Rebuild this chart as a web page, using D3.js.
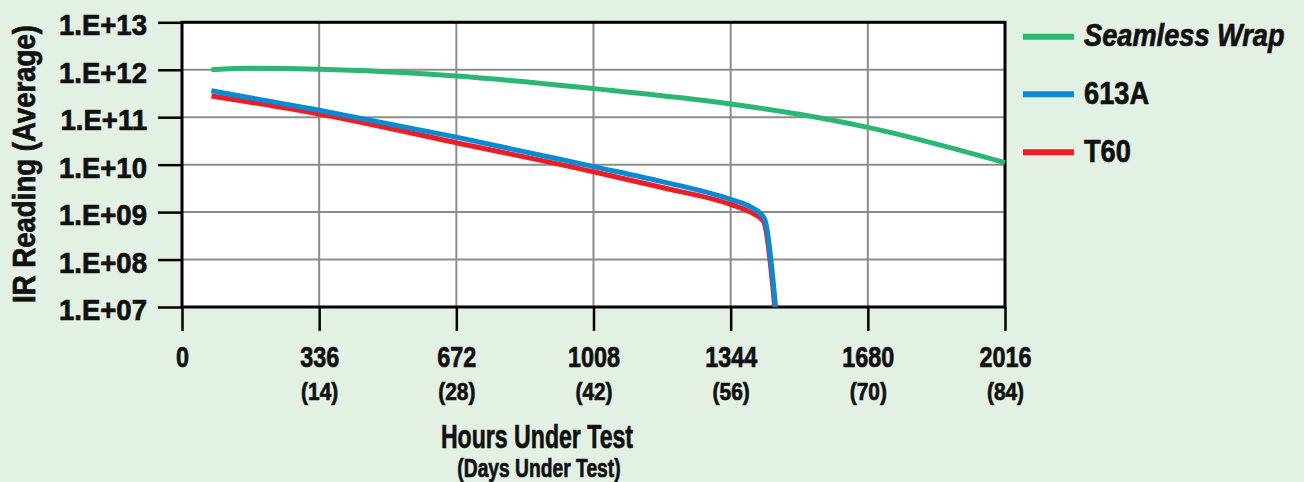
<!DOCTYPE html>
<html>
<head>
<meta charset="utf-8">
<script src="https://cdn.jsdelivr.net/npm/d3@7"></script>
<style>
  html, body { margin: 0; padding: 0; background: #e3f1e4; }
  svg { display: block; font-family: "Liberation Sans", Arial, sans-serif; font-weight: bold; }
  svg text { stroke: #111; stroke-width: 0.7px; }
  .grid line { stroke: #8c8c8c; stroke-width: 2; }
</style>
</head>
<body>
<svg width="1304" height="482"></svg>
<script>
const hourTicks = [0, 336, 672, 1008, 1344, 1680, 2016];
const dayLabels = ['', '(14)', '(28)', '(42)', '(56)', '(70)', '(84)'];
const irTicks = [1e7, 1e8, 1e9, 1e10, 1e11, 1e12, 1e13];
const irLabels = ['1.E+07', '1.E+08', '1.E+09', '1.E+10', '1.E+11', '1.E+12', '1.E+13'];

const seriesNames = ['Seamless Wrap', '613A', 'T60'];
const seriesColors = ['#2bb673', '#0a8ad2', '#ee1d25'];

const seamlessHours = [72, 168, 336, 672, 1008, 1344, 1512, 1680, 2016];
const seamlessIR = [1.0e12, 1.07e12, 1.03e12, 7.4e11, 4.0e11, 1.9e11, 1.15e11, 6.1e10, 1.1e10];

const hours613A = [72, 336, 672, 1008, 1176, 1344, 1392, 1416, 1428, 1454];
const ir613A = [3.6e11, 1.4e11, 3.8e10, 9.1e9, 4.4e9, 1.85e9, 1.3e9, 9.5e8, 6.9e8, 1e7];

const hoursT60 = [72, 336, 672, 1008, 1176, 1344, 1392, 1416, 1426, 1452];
const irT60 = [2.8e11, 1.17e11, 2.9e10, 7.1e9, 3.3e9, 1.45e9, 1.0e9, 7.6e8, 6.0e8, 1e7];

const svg = d3.select('svg');

// the original lettering is a condensed face, so squeeze the glyphs
function squeeze(sel, k) {
    sel.each(function () {
        const w = this.getComputedTextLength();
        d3.select(this).attr('textLength', w * k).attr('lengthAdjust', 'spacingAndGlyphs');
    });
}

const x = d3.scaleLinear().domain([0, 2016]).range([182, 1005]);
const y = d3.scaleLog().domain([1e7, 1e13]).range([307, 22.3]);

// plot area
svg.append('rect')
    .attr('x', x(0)).attr('y', y(1e13))
    .attr('width', x(2016) - x(0)).attr('height', y(1e7) - y(1e13))
    .attr('fill', '#fff');

const grid = svg.append('g').attr('class', 'grid');
grid.selectAll('.v').data(hourTicks.slice(1, -1))
    .enter().append('line')
    .attr('x1', d => x(d)).attr('x2', d => x(d))
    .attr('y1', y(1e13)).attr('y2', y(1e7));
grid.selectAll('.h').data(irTicks.slice(1, -1))
    .enter().append('line')
    .attr('x1', x(0)).attr('x2', x(2016))
    .attr('y1', d => y(d)).attr('y2', d => y(d));

// axes
const yAxis = svg.append('g')
    .attr('transform', `translate(${x(0)},0)`)
    .call(d3.axisLeft(y).tickValues(irTicks).tickSize(24).tickPadding(11)
        .tickFormat((d, i) => irLabels[i]));
yAxis.select('.domain').remove();
yAxis.selectAll('.tick line').attr('stroke', '#000').attr('stroke-width', 2.5);
yAxis.selectAll('.tick text')
    .attr('fill', '#111').attr('font-size', 29).attr('font-family', null)
    .attr('dy', '0.43em')
    .call(squeeze, 0.95);

const xAxis = svg.append('g')
    .attr('transform', `translate(0,${y(1e7)})`)
    .call(d3.axisBottom(x).tickValues(hourTicks).tickSize(24)
        .tickFormat(d3.format('d')));
xAxis.select('.domain').remove();
xAxis.selectAll('.tick line').attr('stroke', '#000').attr('stroke-width', 2.5);
xAxis.selectAll('.tick text')
    .attr('fill', '#111').attr('font-size', 30).attr('font-family', null)
    .attr('y', 60).attr('dy', 0)
    .call(squeeze, 0.78);
xAxis.selectAll('.tick').append('text')
    .attr('fill', '#111').attr('font-size', 24)
    .attr('y', 93).attr('text-anchor', 'middle')
    .text((d, i) => dayLabels[i])
    .call(squeeze, 0.87);

// frame
svg.append('rect')
    .attr('x', x(0)).attr('y', y(1e13))
    .attr('width', x(2016) - x(0)).attr('height', y(1e7) - y(1e13))
    .attr('fill', 'none').attr('stroke', '#000').attr('stroke-width', 3);

// series
const line = d3.line()
    .x(d => x(d[0]))
    .y(d => y(d[1]))
    .curve(d3.curveMonotoneX);

const series = [
    d3.zip(seamlessHours, seamlessIR),
    d3.zip(hours613A, ir613A),
    d3.zip(hoursT60, irT60)
];
[0, 2, 1].forEach(i => {
    svg.append('path')
        .datum(series[i])
        .attr('fill', 'none')
        .attr('stroke', seriesColors[i])
        .attr('stroke-width', 5)
        .attr('stroke-linejoin', 'round')
        .attr('d', line);
});

// titles
svg.append('text')
    .attr('x', 537).attr('y', 448)
    .attr('text-anchor', 'middle').attr('font-size', 33).attr('fill', '#111')
    .text('Hours Under Test')
    .call(squeeze, 0.70);
svg.append('text')
    .attr('x', 539).attr('y', 477)
    .attr('text-anchor', 'middle').attr('font-size', 25).attr('fill', '#111')
    .text('(Days Under Test)')
    .call(squeeze, 0.77);
svg.append('text')
    .attr('transform', 'translate(35,164) rotate(-90)')
    .attr('text-anchor', 'middle').attr('font-size', 31).attr('fill', '#111')
    .text('IR Reading (Average)')
    .call(squeeze, 0.89);

// legend
const legend = svg.append('g').attr('transform', 'translate(1023,0)');
const legendY = [36.7, 94.3, 152.3];
seriesNames.forEach((name, i) => {
    legend.append('line')
        .attr('x1', 0).attr('x2', 51)
        .attr('y1', legendY[i]).attr('y2', legendY[i])
        .attr('stroke', seriesColors[i]).attr('stroke-width', 6);
    legend.append('text')
        .attr('x', 61).attr('y', legendY[i] + 9.5)
        .attr('font-size', 32).attr('fill', '#111')
        .attr('font-style', i === 0 ? 'italic' : 'normal')
        .text(name)
        .call(squeeze, 0.85);
});
</script>
</body>
</html>
